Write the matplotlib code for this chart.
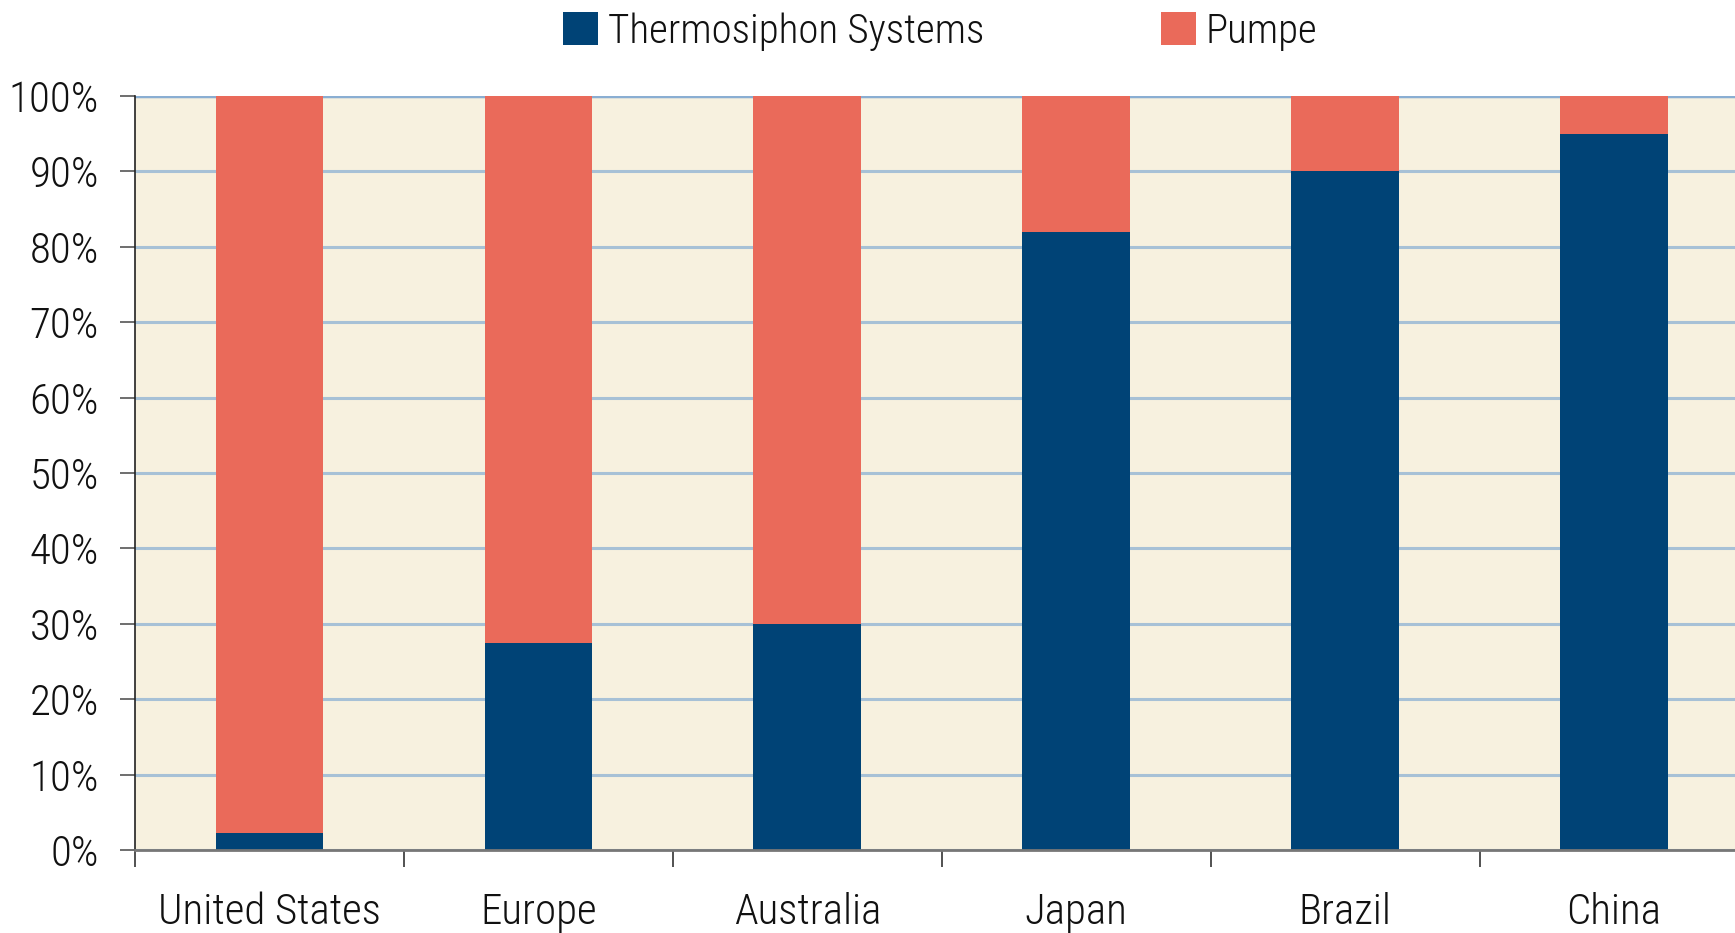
import matplotlib.pyplot as plt
from matplotlib.ticker import FixedLocator, PercentFormatter

regions = ["United States", "Europe", "Australia", "Japan", "Brazil", "China"]
thermosiphon = [2.2, 27.5, 30.0, 82.0, 90.0, 95.0]
pumped = [100 - v for v in thermosiphon]
yticks = [0, 10, 20, 30, 40, 50, 60, 70, 80, 90, 100]

BLUE = "#004376"
SALMON = "#EA6A5A"
BG = "#F7F1DF"
GRID = "#A7C1D6"

plt.rcParams['font.family'] = ['Liberation Sans Narrow', 'Roboto Condensed', 'Open Sans Condensed', 'Lato', 'DejaVu Sans']
plt.rcParams['font.weight'] = 'light'
FS = 31
plt.rcParams['font.size'] = FS

fig = plt.figure(figsize=(17.35, 9.33), dpi=100)
ax = fig.add_axes([0.0778, 0.089, 0.9222, 0.808])
ax.set_facecolor(BG)

x = list(range(len(regions)))
ax.bar(x, thermosiphon, width=0.4, color=BLUE, label="Thermosiphon Systems", zorder=3)
ax.bar(x, pumped, width=0.4, bottom=thermosiphon, color=SALMON, label="Pumpe", zorder=3)

ax.set_xlim(-0.5, 5.45)
ax.set_ylim(0, 100)
ax.set_yticks(yticks)
ax.yaxis.set_major_formatter(PercentFormatter(decimals=0))
ax.tick_params(axis='y', length=11, width=1.2, color="#555555", pad=15, labelcolor="#111111")
ax.yaxis.grid(True, color=GRID, linewidth=2.2, zorder=1)
ax.axhline(100, color="#8AAED2", linewidth=2.5, zorder=2)

# boundaries as major ticks, labels at the centers as minor ticks
ax.xaxis.set_major_locator(FixedLocator([i - 0.5 for i in range(len(regions) + 1)]))
ax.xaxis.set_major_formatter(plt.NullFormatter())
ax.xaxis.set_minor_locator(FixedLocator(x))
ax.set_xticklabels(regions, minor=True)
ax.tick_params(axis='x', which='major', length=12, width=1.2, color="#333333")
ax.tick_params(axis='x', which='minor', length=0, pad=30, labelcolor="#111111")

for s in ["top", "right"]:
    ax.spines[s].set_visible(False)
ax.spines["left"].set_color("#222222")
ax.spines["left"].set_linewidth(1.2)
ax.spines["bottom"].set_color("#777777")
ax.spines["bottom"].set_linewidth(2)
ax.spines["bottom"].set_zorder(4)

leg = fig.legend(loc="center", bbox_to_anchor=(0.542, 0.966), ncol=2, frameon=False,
                 handlelength=0.85, handleheight=0.85, handletextpad=0.25, columnspacing=4.3,
                 fontsize=29.5)
for t in leg.get_texts():
    t.set_color("#111111")

fig.savefig("out.png", dpi=100, facecolor="white")
